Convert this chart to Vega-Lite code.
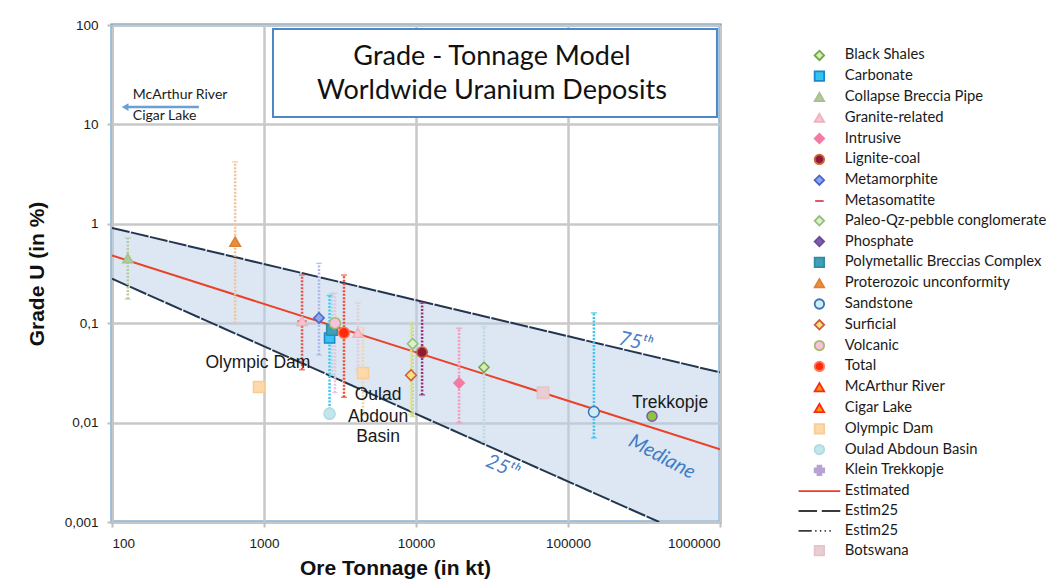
{
  "$schema": "https://vega.github.io/schema/vega-lite/v6.json",
  "width": 608,
  "height": 497,
  "autosize": {"type": "none"},
  "padding": {"left": 112, "top": 25, "right": 337, "bottom": 62},
  "background": "white",
  "config": {
    "view": {"stroke": "#4a8cc2", "strokeWidth": 3},
    "axis": {
      "domain": false,
      "grid": true,
      "gridColor": "#c8c8c8",
      "gridWidth": 2.5,
      "tickColor": "#bdbdbd",
      "tickSize": 5,
      "tickWidth": 2,
      "labelFont": "Liberation Sans",
      "labelFontSize": 13.5,
      "labelColor": "#1a1a1a",
      "titleFont": "Liberation Sans",
      "titleFontSize": 21,
      "titleFontWeight": "bold",
      "titleColor": "#111111"
    }
  },
  "datasets": {
    "band": [
      {"tonnage": 100, "up": 0.91, "low": 0.28},
      {"tonnage": 398000, "up": 0.0452, "low": 0.001},
      {"tonnage": 1000000, "up": 0.032, "low": 0.001}
    ],
    "q75": [{"tonnage": 100, "grade": 0.91}, {"tonnage": 1000000, "grade": 0.032}],
    "q25": [{"tonnage": 100, "grade": 0.28}, {"tonnage": 398000, "grade": 0.001}],
    "median": [{"tonnage": 100, "grade": 0.48}, {"tonnage": 1000000, "grade": 0.0054}],
    "deposits": [
      {"type": "Collapse Breccia Pipe", "tonnage": 127, "grade": 0.45, "lo": 0.175, "hi": 0.72},
      {"type": "Proterozoic unconformity", "tonnage": 646, "grade": 0.66, "lo": 0.1, "hi": 4.2},
      {"type": "Metasomatite", "tonnage": 1780, "grade": 0.105, "lo": 0.034, "hi": 0.305},
      {"type": "Granite-related", "tonnage": 1780, "grade": 0.105, "lo": null, "hi": null},
      {"type": "Metamorphite", "tonnage": 2300, "grade": 0.113, "lo": 0.048, "hi": 0.4},
      {"type": "Carbonate", "tonnage": 2700, "grade": 0.071, "lo": 0.0125, "hi": 0.19},
      {"type": "Polymetallic Breccias Complex", "tonnage": 2800, "grade": 0.0855, "lo": 0.03, "hi": 0.2},
      {"type": "Volcanic", "tonnage": 2930, "grade": 0.1, "lo": 0.02, "hi": 0.2},
      {"type": "Total", "tonnage": 3360, "grade": 0.08, "lo": 0.018, "hi": 0.305},
      {"type": "Granite-related", "tonnage": 4150, "grade": 0.08, "lo": 0.034, "hi": 0.16},
      {"type": "Olympic Dam", "tonnage": 4480, "grade": 0.0316, "lo": 0.012, "hi": 0.09},
      {"type": "Surficial", "tonnage": 9270, "grade": 0.03, "lo": 0.012, "hi": 0.1},
      {"type": "Paleo-Qz-pebble conglomerate", "tonnage": 9500, "grade": 0.062, "lo": 0.0115, "hi": 0.1},
      {"type": "Phosphate", "tonnage": 10970, "grade": 0.051, "lo": null, "hi": null},
      {"type": "Lignite-coal", "tonnage": 10970, "grade": 0.051, "lo": 0.019, "hi": 0.16},
      {"type": "Intrusive", "tonnage": 19200, "grade": 0.025, "lo": 0.01, "hi": 0.089},
      {"type": "Black Shales", "tonnage": 28000, "grade": 0.036, "lo": 0.0064, "hi": 0.092},
      {"type": "Botswana", "tonnage": 68500, "grade": 0.02, "lo": null, "hi": null},
      {"type": "Sandstone", "tonnage": 148000, "grade": 0.0128, "lo": 0.007, "hi": 0.127},
      {"type": "Trekkopje", "tonnage": 357000, "grade": 0.0116, "lo": null, "hi": null},
      {"type": "Oulad Abdoun Basin", "tonnage": 2700, "grade": 0.0123, "lo": null, "hi": null},
      {"type": "Olympic Dam", "tonnage": 927, "grade": 0.0228, "lo": null, "hi": null}
    ],
    "titleLines": [
      {"text": "Grade - Tonnage Model", "tonnage": 31600, "grade": 47.6},
      {"text": "Worldwide Uranium Deposits", "tonnage": 31600, "grade": 21.7}
    ],
    "titleBox": [{"x1": 1146, "x2": 955000, "y1": 91, "y2": 11.9}],
    "offChart": [
      {"text": "McArthur River", "tonnage": 137, "grade": 19.8},
      {"text": "Cigar Lake", "tonnage": 137, "grade": 12.15}
    ],
    "arrow": [{"from": 373, "to": 122, "grade": 14.96}],
    "depositLabels": [
      {"text": "Olympic Dam", "tonnage": 912, "grade": 0.04},
      {"text": "Oulad", "tonnage": 5630, "grade": 0.019},
      {"text": "Abdoun", "tonnage": 5630, "grade": 0.0114},
      {"text": "Basin", "tonnage": 5630, "grade": 0.0072},
      {"text": "Trekkopje", "tonnage": 469000, "grade": 0.0157}
    ],
    "lbl75": [{"text": "75ᵗʰ", "tonnage": 276000, "grade": 0.0647}],
    "lbl25": [{"text": "25ᵗʰ", "tonnage": 36800, "grade": 0.00357}],
    "lblMed": [{"text": "Mediane", "tonnage": 415000, "grade": 0.00451}]
  },
  "layer": [
    {
      "data": {"name": "band"},
      "mark": {"type": "area", "color": "#b9cfe8", "opacity": 0.5},
      "encoding": {
        "x": {"field": "tonnage", "type": "quantitative", "scale": {"type": "log", "domain": [100, 1000000]},
          "title": "Ore Tonnage (in kt)",
          "axis": {"values": [100, 1000, 10000, 100000, 1000000], "labelExpr": "format(datum.value, 'd')", "labelPadding": 9, "titlePadding": 8, "titleX": 283}},
        "y": {"field": "up", "type": "quantitative", "scale": {"type": "log", "domain": [0.001, 100]},
          "title": "Grade U (in %)",
          "axis": {"values": [0.001, 0.01, 0.1, 1, 10, 100], "labelExpr": "replace(toString(datum.value), '.', ',')", "labelPadding": 9, "titlePadding": 17}},
        "y2": {"field": "low"}
      }
    },
    {
      "data": {"name": "q75"},
      "mark": {"type": "line", "color": "#23364f", "strokeWidth": 2, "strokeDash": [18, 1.5], "clip": true},
      "encoding": {
        "x": {"field": "tonnage", "type": "quantitative", "scale": {"type": "log", "domain": [100, 1000000]}},
        "y": {"field": "grade", "type": "quantitative", "scale": {"type": "log", "domain": [0.001, 100]}}
      }
    },
    {
      "data": {"name": "q25"},
      "mark": {"type": "line", "color": "#23364f", "strokeWidth": 2, "strokeDash": [18, 1.5], "clip": true},
      "encoding": {
        "x": {"field": "tonnage", "type": "quantitative", "scale": {"type": "log", "domain": [100, 1000000]}},
        "y": {"field": "grade", "type": "quantitative", "scale": {"type": "log", "domain": [0.001, 100]}}
      }
    },
    {
      "data": {"name": "median"},
      "mark": {"type": "line", "color": "#ea4128", "strokeWidth": 2, "clip": true},
      "encoding": {
        "x": {"field": "tonnage", "type": "quantitative", "scale": {"type": "log", "domain": [100, 1000000]}},
        "y": {"field": "grade", "type": "quantitative", "scale": {"type": "log", "domain": [0.001, 100]}}
      }
    },
    {
      "data": {"name": "deposits"},
      "transform": [{"filter": "datum.lo != null"}],
      "mark": {"type": "rule", "strokeDash": [2, 1.5], "strokeWidth": 2.5},
      "encoding": {
        "x": {"field": "tonnage", "type": "quantitative", "scale": {"type": "log", "domain": [100, 1000000]}},
        "y": {"field": "lo", "type": "quantitative", "scale": {"type": "log", "domain": [0.001, 100]}},
        "y2": {"field": "hi"},
        "color": {"field": "type", "type": "nominal", "legend": null,
          "scale": {
            "domain": ["Collapse Breccia Pipe", "Proterozoic unconformity", "Metasomatite", "Metamorphite", "Carbonate", "Polymetallic Breccias Complex", "Volcanic", "Total", "Granite-related", "Olympic Dam", "Surficial", "Paleo-Qz-pebble conglomerate", "Lignite-coal", "Intrusive", "Black Shales", "Sandstone"],
            "range": ["#b7cc9c", "#efc49a", "#e8514a", "#aab9ee", "#3ec6f0", "#a6e0da", "#efbfe2", "#ec4a34", "#e3cbd6", "#f0d6a8", "#e6e27a", "#c6d796", "#9b3476", "#f29ab8", "#bcdadb", "#3ec3ee"]
          }}
      }
    },
    {
      "data": {"name": "deposits"},
      "transform": [{"filter": "datum.lo != null"}],
      "mark": {"type": "tick", "orient": "horizontal", "size": 6, "thickness": 1.5},
      "encoding": {
        "x": {"field": "tonnage", "type": "quantitative", "scale": {"type": "log", "domain": [100, 1000000]}},
        "y": {"field": "hi", "type": "quantitative", "scale": {"type": "log", "domain": [0.001, 100]}},
        "color": {"field": "type", "type": "nominal", "legend": null}
      }
    },
    {
      "data": {"name": "deposits"},
      "transform": [{"filter": "datum.lo != null"}],
      "mark": {"type": "tick", "orient": "horizontal", "size": 6, "thickness": 1.5},
      "encoding": {
        "x": {"field": "tonnage", "type": "quantitative", "scale": {"type": "log", "domain": [100, 1000000]}},
        "y": {"field": "lo", "type": "quantitative", "scale": {"type": "log", "domain": [0.001, 100]}},
        "color": {"field": "type", "type": "nominal", "legend": null}
      }
    },
    {
      "data": {"name": "deposits"},
      "mark": {"type": "point", "filled": true, "opacity": 1, "strokeWidth": 1.5},
      "encoding": {
        "x": {"field": "tonnage", "type": "quantitative", "scale": {"type": "log", "domain": [100, 1000000]}},
        "y": {"field": "grade", "type": "quantitative", "scale": {"type": "log", "domain": [0.001, 100]}},
        "fill": {"field": "type", "type": "nominal",
          "scale": {
            "domain": ["Black Shales", "Carbonate", "Collapse Breccia Pipe", "Granite-related", "Intrusive", "Lignite-coal", "Metamorphite", "Metasomatite", "Paleo-Qz-pebble conglomerate", "Phosphate", "Polymetallic Breccias Complex", "Proterozoic unconformity", "Sandstone", "Surficial", "Volcanic", "Total", "McArthur River", "Cigar Lake", "Olympic Dam", "Oulad Abdoun Basin", "Klein Trekkopje", "Estimated", "Estim25", "Estim25 ", "Botswana", "Trekkopje"],
            "range": ["#d9ecb5", "#35c4f2", "#b3c99a", "#f5c5cf", "#f27ba3", "#8e1b3c", "#8ea7ea", "#e04848", "#dcefc9", "#7a5ca8", "#3f9fb6", "#e88e3c", "#cdeef2", "#f6e17c", "#f6c3de", "#ff2a0a", "#f7941d", "#f7941d", "#fdd9aa", "#c3e5eb", "#b7a2d3", "#f03c24", "#404040", "#404040", "#e9cdd2", "#8cc63f"]
          },
          "legend": {
            "title": null,
            "orient": "none",
            "legendX": 700,
            "legendY": 23,
            "labelFont": "Lato",
            "labelFontSize": 14.8,
            "labelColor": "#1a1a1a",
            "labelLimit": 320,
            "labelOffset": 18,
            "rowPadding": 3.8,
            "symbolSize": 90,
            "symbolStrokeWidth": 1.8,
            "values": ["Black Shales", "Carbonate", "Collapse Breccia Pipe", "Granite-related", "Intrusive", "Lignite-coal", "Metamorphite", "Metasomatite", "Paleo-Qz-pebble conglomerate", "Phosphate", "Polymetallic Breccias Complex", "Proterozoic unconformity", "Sandstone", "Surficial", "Volcanic", "Total", "McArthur River", "Cigar Lake", "Olympic Dam", "Oulad Abdoun Basin", "Klein Trekkopje", "Estimated", "Estim25", "Estim25 ", "Botswana"]
          }},
        "stroke": {"field": "type", "type": "nominal",
          "scale": {
            "domain": ["Black Shales", "Carbonate", "Collapse Breccia Pipe", "Granite-related", "Intrusive", "Lignite-coal", "Metamorphite", "Metasomatite", "Paleo-Qz-pebble conglomerate", "Phosphate", "Polymetallic Breccias Complex", "Proterozoic unconformity", "Sandstone", "Surficial", "Volcanic", "Total", "McArthur River", "Cigar Lake", "Olympic Dam", "Oulad Abdoun Basin", "Klein Trekkopje", "Estimated", "Estim25", "Estim25 ", "Botswana", "Trekkopje"],
            "range": ["#6ea84a", "#1b86cc", "#a8c08c", "#efb1bf", "#f27ba3", "#d0672a", "#4a66c8", "#e04848", "#8fbf7a", "#6b4a98", "#2f8ca4", "#e08030", "#3f73b8", "#d0583f", "#a9b96a", "#ff7a5a", "#ff2a0a", "#ff2a0a", "#f8cc96", "#afdbe3", "#b7a2d3", "#f03c24", "#3a3a3a", "#3a3a3a", "#e4c4ca", "#7a5aa8"]
          }},
        "shape": {"field": "type", "type": "nominal",
          "scale": {
            "domain": ["Black Shales", "Carbonate", "Collapse Breccia Pipe", "Granite-related", "Intrusive", "Lignite-coal", "Metamorphite", "Metasomatite", "Paleo-Qz-pebble conglomerate", "Phosphate", "Polymetallic Breccias Complex", "Proterozoic unconformity", "Sandstone", "Surficial", "Volcanic", "Total", "McArthur River", "Cigar Lake", "Olympic Dam", "Oulad Abdoun Basin", "Klein Trekkopje", "Estimated", "Estim25", "Estim25 ", "Botswana", "Trekkopje"],
            "range": ["diamond", "square", "triangle-up", "triangle-up", "diamond", "circle", "diamond", "M-0.9,0H0.9", "diamond", "diamond", "square", "triangle-up", "circle", "diamond", "circle", "circle", "triangle-up", "triangle-up", "square", "circle", "cross", "M-4.4,0H4.4", "M-4.4,0H-0.5M0.5,0H4.4", "M-4.4,0H-1.6M-0.9,0H-0.6M0.1,0H0.4M1.1,0H1.4M2.1,0H2.4", "square", "circle"]
          }},
        "size": {"field": "type", "type": "nominal", "legend": null,
          "scale": {
            "domain": ["Trekkopje", "Black Shales", "Carbonate", "Collapse Breccia Pipe", "Granite-related", "Intrusive", "Lignite-coal", "Metamorphite", "Metasomatite", "Paleo-Qz-pebble conglomerate", "Phosphate", "Polymetallic Breccias Complex", "Proterozoic unconformity", "Sandstone", "Surficial", "Volcanic", "Total", "McArthur River", "Cigar Lake", "Olympic Dam", "Oulad Abdoun Basin", "Klein Trekkopje", "Estimated", "Estim25", "Estim25 ", "Botswana"],
            "range": [100, 130, 85, 170, 140, 85, 120, 100, 80, 130, 90, 85, 180, 120, 120, 120, 120, 80, 80, 170, 100, 90, 100, 100, 100, 170]
          }}
      }
    },
    {
      "data": {"name": "titleBox"},
      "mark": {"type": "rect", "fill": "white", "stroke": "#4f86c6", "strokeWidth": 2},
      "encoding": {
        "x": {"field": "x1", "type": "quantitative", "scale": {"type": "log", "domain": [100, 1000000]}},
        "x2": {"field": "x2"},
        "y": {"field": "y1", "type": "quantitative", "scale": {"type": "log", "domain": [0.001, 100]}},
        "y2": {"field": "y2"}
      }
    },
    {
      "data": {"name": "titleLines"},
      "mark": {"type": "text", "font": "Lato", "fontSize": 27, "color": "#111111", "align": "center", "baseline": "middle"},
      "encoding": {
        "x": {"field": "tonnage", "type": "quantitative", "scale": {"type": "log", "domain": [100, 1000000]}},
        "y": {"field": "grade", "type": "quantitative", "scale": {"type": "log", "domain": [0.001, 100]}},
        "text": {"field": "text"}
      }
    },
    {
      "data": {"name": "offChart"},
      "mark": {"type": "text", "font": "Lato", "fontSize": 14, "color": "#1a1a1a", "align": "left", "baseline": "middle"},
      "encoding": {
        "x": {"field": "tonnage", "type": "quantitative", "scale": {"type": "log", "domain": [100, 1000000]}},
        "y": {"field": "grade", "type": "quantitative", "scale": {"type": "log", "domain": [0.001, 100]}},
        "text": {"field": "text"}
      }
    },
    {
      "data": {"name": "arrow"},
      "mark": {"type": "rule", "color": "#6a9fd8", "strokeWidth": 2.5},
      "encoding": {
        "x": {"field": "from", "type": "quantitative", "scale": {"type": "log", "domain": [100, 1000000]}},
        "x2": {"field": "to"},
        "y": {"field": "grade", "type": "quantitative", "scale": {"type": "log", "domain": [0.001, 100]}}
      }
    },
    {
      "data": {"name": "arrow"},
      "mark": {"type": "point", "shape": "triangle-left", "filled": true, "color": "#6a9fd8", "size": 60, "opacity": 1},
      "encoding": {
        "x": {"field": "to", "type": "quantitative", "scale": {"type": "log", "domain": [100, 1000000]}},
        "y": {"field": "grade", "type": "quantitative", "scale": {"type": "log", "domain": [0.001, 100]}}
      }
    },
    {
      "data": {"name": "depositLabels"},
      "mark": {"type": "text", "font": "Liberation Sans", "fontSize": 17.5, "color": "#1a1a1a", "align": "center", "baseline": "middle"},
      "encoding": {
        "x": {"field": "tonnage", "type": "quantitative", "scale": {"type": "log", "domain": [100, 1000000]}},
        "y": {"field": "grade", "type": "quantitative", "scale": {"type": "log", "domain": [0.001, 100]}},
        "text": {"field": "text"}
      }
    },
    {
      "data": {"name": "lbl75"},
      "mark": {"type": "text", "font": "Lato", "fontStyle": "italic", "fontSize": 20, "color": "#4a80c4", "align": "center", "baseline": "middle", "angle": 13},
      "encoding": {
        "x": {"field": "tonnage", "type": "quantitative", "scale": {"type": "log", "domain": [100, 1000000]}},
        "y": {"field": "grade", "type": "quantitative", "scale": {"type": "log", "domain": [0.001, 100]}},
        "text": {"field": "text"}
      }
    },
    {
      "data": {"name": "lbl25"},
      "mark": {"type": "text", "font": "Lato", "fontStyle": "italic", "fontSize": 20, "color": "#4a80c4", "align": "center", "baseline": "middle", "angle": 24},
      "encoding": {
        "x": {"field": "tonnage", "type": "quantitative", "scale": {"type": "log", "domain": [100, 1000000]}},
        "y": {"field": "grade", "type": "quantitative", "scale": {"type": "log", "domain": [0.001, 100]}},
        "text": {"field": "text"}
      }
    },
    {
      "data": {"name": "lblMed"},
      "mark": {"type": "text", "font": "Lato", "fontStyle": "italic", "fontSize": 20, "color": "#3f7cc4", "align": "center", "baseline": "middle", "angle": 28},
      "encoding": {
        "x": {"field": "tonnage", "type": "quantitative", "scale": {"type": "log", "domain": [100, 1000000]}},
        "y": {"field": "grade", "type": "quantitative", "scale": {"type": "log", "domain": [0.001, 100]}},
        "text": {"field": "text"}
      }
    }
  ]
}
